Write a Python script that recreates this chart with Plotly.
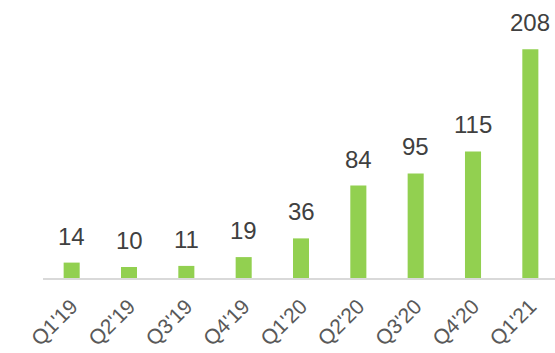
import plotly.graph_objects as go

quarters = ["Q1'19", "Q2'19", "Q3'19", "Q4'19", "Q1'20", "Q2'20", "Q3'20", "Q4'20", "Q1'21"]
values = [14, 10, 11, 19, 36, 84, 95, 115, 208]

fig = go.Figure()
fig.add_trace(go.Bar(
    x=quarters, y=values,
    marker=dict(color="#92D050", line=dict(width=0)),
    width=0.28,
))
for q, v in zip(quarters, values):
    fig.add_annotation(x=q, y=v, text=str(v), showarrow=False,
                       yanchor="bottom", yshift=11,
                       font=dict(family="Liberation Sans, Arial", size=24, color="#404040"))

fig.update_layout(
    width=555, height=353,
    margin=dict(l=43, r=0, t=20, b=75, autoexpand=False),
    paper_bgcolor="white", plot_bgcolor="white",
    showlegend=False,
    font=dict(family="Liberation Sans, Arial", color="#595959"),
    xaxis=dict(range=[-0.5, 8.43], tickangle=-45, showline=True, linecolor="#D9D9D9",
               linewidth=1.5, showgrid=False, ticks="", automargin=False,
               ticklabelstandoff=6,
               tickfont=dict(size=21, color="#595959")),
    yaxis=dict(range=[0, 234.5], visible=False, showgrid=False, zeroline=False),
)
fig.write_html("out.html")
